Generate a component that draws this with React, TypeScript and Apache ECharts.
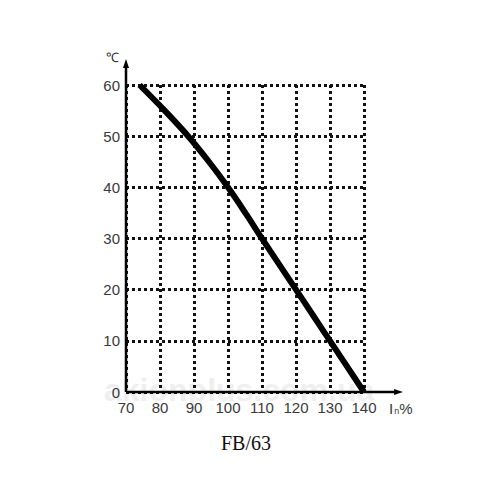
import React, { useEffect, useRef } from "react";
import * as echarts from "echarts";

const xTicks = [70, 80, 90, 100, 110, 120, 130, 140];
const yTicks = [0, 10, 20, 30, 40, 50, 60];
const curveX = [74, 81.4, 88.3, 94.4, 100, 105.1, 110, 115, 120, 125, 130, 135, 140];
const curveY = [60, 55, 50, 45, 40, 35, 30, 25, 20, 15, 10, 5, 0];

export default function App() {
  const ref = useRef<HTMLDivElement>(null);
  useEffect(() => {
    const chart = echarts.init(ref.current!, null, { renderer: "svg" });
    const dotted = { color: "#111", width: 3, type: [3, 3] as number[] };
    const labelStyle = {
      color: "#3a3a3a",
      fontSize: 15,
      fontFamily: "Liberation Sans, Arial, sans-serif",
    };
    chart.setOption({
      animation: false,
      backgroundColor: "#fff",
      grid: { left: 126, right: 136, top: 85, bottom: 108, containLabel: false },
      xAxis: {
        type: "value",
        min: xTicks[0],
        max: xTicks[xTicks.length - 1],
        interval: 10,
        axisLine: { show: false },
        axisTick: { show: false },
        splitLine: { show: true, lineStyle: dotted },
        axisLabel: { ...labelStyle, margin: 8 },
      },
      yAxis: {
        type: "value",
        min: yTicks[0],
        max: yTicks[yTicks.length - 1],
        interval: 10,
        axisLine: { show: false },
        axisTick: { show: false },
        splitLine: { show: true, lineStyle: dotted },
        axisLabel: { ...labelStyle, margin: 6 },
      },
      series: [
        {
          type: "line",
          smooth: 0.3,
          symbol: "none",
          lineStyle: { color: "#000", width: 6 },
          data: curveX.map((x, i) => [x, curveY[i]]),
          z: 5,
        },
      ],
    });
    const o = chart.convertToPixel({ gridIndex: 0 }, [xTicks[0], yTicks[0]]) as number[];
    const top = chart.convertToPixel({ gridIndex: 0 }, [xTicks[0], yTicks[yTicks.length - 1]]) as number[];
    const right = chart.convertToPixel({ gridIndex: 0 }, [xTicks[xTicks.length - 1], yTicks[0]]) as number[];
    const yEnd = top[1] - 26;
    const xEnd = right[0] + 39;
    chart.setOption({
      graphic: [
        {
          type: "text",
          x: 104,
          y: 390,
          z: -10,
          style: {
            text: "akionplus.com.ua",
            fill: "#efefef",
            font: "bold 32px Liberation Sans, Arial, sans-serif",
            verticalAlign: "middle",
          },
        },
        {
          type: "line",
          z: 10,
          shape: { x1: o[0], y1: o[1], x2: o[0], y2: yEnd + 6 },
          style: { stroke: "#000", lineWidth: 2.5 },
        },
        {
          type: "polygon",
          z: 10,
          shape: { points: [[o[0], yEnd], [o[0] - 3, yEnd + 9], [o[0] + 3, yEnd + 9]] },
          style: { fill: "#000" },
        },
        {
          type: "line",
          z: 10,
          shape: { x1: o[0], y1: o[1], x2: xEnd - 6, y2: o[1] },
          style: { stroke: "#000", lineWidth: 2.5 },
        },
        {
          type: "polygon",
          z: 10,
          shape: { points: [[xEnd, o[1]], [xEnd - 9, o[1] - 3], [xEnd - 9, o[1] + 3]] },
          style: { fill: "#000" },
        },
        {
          type: "text",
          x: o[0] - 20,
          y: yEnd - 2,
          style: {
            text: "℃",
            fill: "#333",
            font: "13px Liberation Sans, Arial, sans-serif",
            verticalAlign: "middle",
          },
        },
        {
          type: "text",
          x: right[0] + 25,
          y: o[1] + 16,
          style: {
            text: "{a|I}{b|n}{c|%}",
            verticalAlign: "middle",
            rich: {
              a: { fontSize: 15, fill: "#3a3a3a", fontFamily: "Liberation Sans, Arial, sans-serif" },
              b: { fontSize: 9, fill: "#3a3a3a", fontFamily: "Liberation Sans, Arial, sans-serif", padding: [5, 0, 0, 1] },
              c: { fontSize: 15, fill: "#3a3a3a", fontFamily: "Liberation Sans, Arial, sans-serif" },
            },
          },
        },
        {
          type: "text",
          x: 246,
          y: 443,
          style: {
            text: "FB/63",
            fill: "#111",
            font: "20px Liberation Serif, Times New Roman, serif",
            align: "center",
            verticalAlign: "middle",
          },
        },
      ],
    });
    return () => chart.dispose();
  }, []);
  return <div ref={ref} style={{ width: 500, height: 500, margin: -8 }} />;
}
